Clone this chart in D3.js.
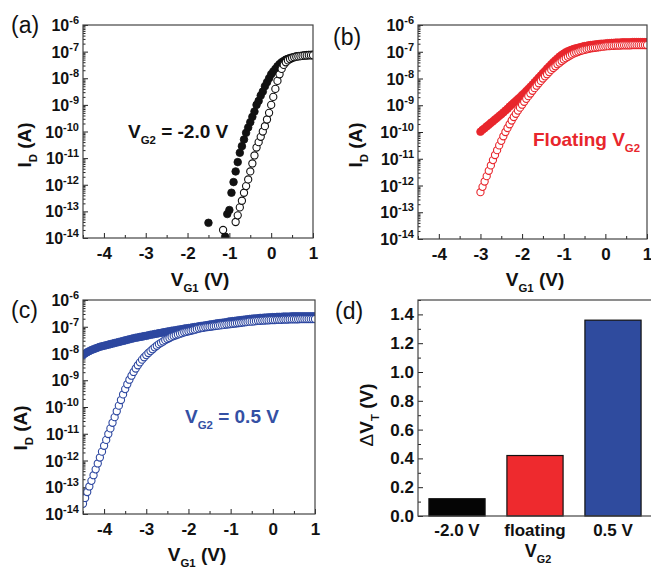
<!DOCTYPE html>
<html>
<head>
<meta charset="utf-8">
<script src="https://cdn.jsdelivr.net/npm/d3@7"></script>
<style>
body { margin: 0; background: #fff; }
svg text { font-family: 'Liberation Sans', Arial, Helvetica, sans-serif; }
</style>
</head>
<body>
<script>
// gate sweep, V_G1 in volts (all series end at 1.0 V)
let vg1 = [-4.5,-4.45,-4.4,-4.35,-4.3,-4.25,-4.2,-4.15,-4.1,-4.05,
    -4,-3.95,-3.9,-3.85,-3.8,-3.75,-3.7,-3.65,-3.6,-3.55,
    -3.5,-3.45,-3.4,-3.35,-3.3,-3.25,-3.2,-3.15,-3.1,-3.05,
    -3,-2.95,-2.9,-2.85,-2.8,-2.75,-2.7,-2.65,-2.6,-2.55,
    -2.5,-2.45,-2.4,-2.35,-2.3,-2.25,-2.2,-2.15,-2.1,-2.05,
    -2,-1.95,-1.9,-1.85,-1.8,-1.75,-1.7,-1.65,-1.6,-1.55,
    -1.5,-1.45,-1.4,-1.35,-1.3,-1.25,-1.2,-1.15,-1.1,-1.05,
    -1,-0.95,-0.9,-0.85,-0.8,-0.75,-0.7,-0.65,-0.6,-0.55,
    -0.5,-0.45,-0.4,-0.35,-0.3,-0.25,-0.2,-0.15,-0.1,-0.05,
    0,0.05,0.1,0.15,0.2,0.25,0.3,0.35,0.4,0.45,
    0.5,0.55,0.6,0.65,0.7,0.75,0.8,0.85,0.9,0.95,1];

// log10(I_D / A), aligned to the last entries of vg1; null = below 1e-14
// (a) V_G2 = -2.0 V, from -1.5 V / -1.15 V
let aFilled = [-13.43,null,null,null,null,null,null,null,-13.95,-13.1,
    -12.95,-12.3,-11.9,-11.5,-11.15,-10.8,-10.55,-10.3,-10.05,-9.85,
    -9.65,-9.45,-9.25,-9.0,-8.85,-8.65,-8.5,-8.3,-8.15,-8.0,
    -7.85,-7.75,-7.65,-7.55,-7.47,-7.4,-7.35,-7.3,-7.27,-7.24,
    -7.22,-7.2,-7.18,-7.17,-7.16,-7.15,-7.14,-7.13,-7.12,-7.12,-7.11];
let aOpen = [-13.7,null,null,null,null,null,
    -13.4,-13.15,-12.85,-12.6,-12.3,-12.05,-11.8,-11.5,-11.2,-10.9,
    -10.6,-10.4,-10.2,-10.0,-9.8,-9.55,-9.3,
    -9.0,-8.7,-8.4,-8.1,-7.85,-7.65,-7.5,-7.4,-7.33,-7.28,
    -7.24,-7.21,-7.19,-7.18,-7.17,-7.16,-7.15,-7.15,-7.14,-7.14,-7.14];

// (b) floating V_G2, from -3.0 V
let bFilled = [-9.99,-9.92,-9.86,-9.79,-9.73,-9.66,-9.6,-9.53,-9.47,-9.4,
    -9.34,-9.27,-9.2,-9.13,-9.05,-8.98,-8.91,-8.84,-8.77,-8.7,
    -8.62,-8.55,-8.47,-8.39,-8.31,-8.23,-8.14,-8.06,-7.97,-7.89,
    -7.8,-7.72,-7.63,-7.55,-7.47,-7.39,-7.32,-7.25,-7.18,-7.12,
    -7.07,-7.02,-6.98,-6.95,-6.92,-6.89,-6.87,-6.85,-6.83,-6.81,
    -6.79,-6.78,-6.76,-6.75,-6.74,-6.73,-6.72,-6.71,-6.7,-6.7,
    -6.69,-6.68,-6.68,-6.67,-6.67,-6.66,-6.66,-6.66,-6.65,-6.65,
    -6.65,-6.65,-6.65,-6.64,-6.64,-6.64,-6.64,-6.64,-6.64,-6.64,-6.64];
let bOpen = [-12.25,-12.05,-11.85,-11.65,-11.45,-11.25,-11.05,-10.86,-10.68,-10.5,
    -10.33,-10.16,-10.0,-9.85,-9.71,-9.57,-9.44,-9.32,-9.2,-9.09,
    -8.98,-8.87,-8.76,-8.66,-8.56,-8.46,-8.36,-8.27,-8.18,-8.09,
    -8.0,-7.92,-7.84,-7.76,-7.68,-7.61,-7.54,-7.47,-7.41,-7.35,
    -7.29,-7.24,-7.19,-7.14,-7.1,-7.06,-7.03,-7.0,-6.97,-6.95,
    -6.93,-6.91,-6.89,-6.87,-6.86,-6.85,-6.84,-6.83,-6.82,-6.81,
    -6.8,-6.79,-6.79,-6.78,-6.78,-6.77,-6.77,-6.77,-6.76,-6.76,
    -6.76,-6.76,-6.76,-6.75,-6.75,-6.75,-6.75,-6.75,-6.75,-6.75,-6.75];

// (c) V_G2 = 0.5 V, from -4.5 V
let cFilled = [-8.06,-8.0,-7.95,-7.91,-7.87,-7.84,-7.81,-7.78,-7.75,-7.73,
    -7.71,-7.69,-7.67,-7.65,-7.63,-7.61,-7.59,-7.57,-7.55,-7.53,
    -7.51,-7.49,-7.47,-7.45,-7.43,-7.41,-7.4,-7.38,-7.37,-7.35,
    -7.34,-7.32,-7.3,-7.29,-7.27,-7.26,-7.24,-7.23,-7.21,-7.2,
    -7.18,-7.17,-7.15,-7.14,-7.13,-7.11,-7.1,-7.09,-7.07,-7.06,
    -7.05,-7.04,-7.02,-7.01,-7.0,-6.98,-6.97,-6.96,-6.95,-6.94,
    -6.92,-6.91,-6.9,-6.88,-6.87,-6.86,-6.85,-6.84,-6.83,-6.81,
    -6.8,-6.79,-6.78,-6.77,-6.76,-6.75,-6.74,-6.73,-6.72,-6.71,
    -6.7,-6.69,-6.69,-6.68,-6.67,-6.67,-6.66,-6.66,-6.65,-6.65,
    -6.64,-6.64,-6.63,-6.63,-6.63,-6.62,-6.62,-6.62,-6.62,-6.61,
    -6.61,-6.61,-6.61,-6.61,-6.61,-6.61,-6.61,-6.61,-6.61,-6.61,-6.61];
let cOpen = [-13.62,-13.4,-13.18,-12.97,-12.76,-12.55,-12.33,-12.11,-11.89,-11.67,
    -11.45,-11.23,-11.01,-10.8,-10.59,-10.38,-10.16,-9.95,-9.74,-9.53,
    -9.33,-9.15,-8.98,-8.83,-8.69,-8.56,-8.44,-8.33,-8.23,-8.14,
    -8.06,-7.98,-7.91,-7.84,-7.77,-7.71,-7.65,-7.6,-7.55,-7.5,
    -7.46,-7.42,-7.38,-7.35,-7.32,-7.29,-7.26,-7.24,-7.21,-7.19,
    -7.17,-7.15,-7.13,-7.11,-7.09,-7.07,-7.05,-7.04,-7.02,-7.01,
    -7.0,-6.99,-6.98,-6.97,-6.96,-6.95,-6.94,-6.93,-6.92,-6.91,
    -6.9,-6.89,-6.88,-6.87,-6.86,-6.85,-6.84,-6.83,-6.82,-6.81,
    -6.81,-6.8,-6.79,-6.78,-6.78,-6.77,-6.77,-6.76,-6.76,-6.75,
    -6.75,-6.75,-6.74,-6.74,-6.74,-6.73,-6.73,-6.73,-6.72,-6.72,
    -6.72,-6.72,-6.72,-6.71,-6.71,-6.71,-6.71,-6.71,-6.71,-6.71,-6.71];

// (d) threshold shift
let vg2Labels = ["-2.0 V", "floating", "0.5 V"];
let deltaVT = [0.12, 0.42, 1.36];
let barColors = ["#050505", "#ee2a2e", "#2f4b9e"];

let xTicks = [-4, -3, -2, -1, 0, 1];
let xMinor = [-4.5, -3.5, -2.5, -1.5, -0.5, 0.5];
let decades = [-14, -13, -12, -11, -10, -9, -8, -7, -6];
let dvtTicks = [0, 0.2, 0.4, 0.6, 0.8, 1.0, 1.2, 1.4];
let dvtMinor = [0.1, 0.3, 0.5, 0.7, 0.9, 1.1, 1.3, 1.5];

let svg = d3.select("body").append("svg").attr("width", 651).attr("height", 568);

// text with sub/superscript parts: [[str, ""|"sub"|"sup"], ...]
function richText(g, x, y, parts, opt)
{
    let size = opt.size;
    let t = g.append("text")
        .attr("x", x).attr("y", y)
        .attr("font-size", size)
        .attr("font-weight", opt.weight || "bold")
        .attr("fill", opt.color || "#111")
        .attr("text-anchor", opt.anchor || "start");
    if (opt.rotate)
        t.attr("transform", "rotate(-90," + x + "," + y + ")");
    let shift = 0;
    for (let [s, kind, w] of parts)
    {
        let sp = t.append("tspan").text(s);
        let target = kind == "sub" ? size * 0.32 : kind == "sup" ? -(opt.supShift || size * 0.45) : 0;
        if (target != shift)
            sp.attr("dy", target - shift);
        shift = target;
        if (kind)
            sp.attr("font-size", opt.small || size * 0.6);
        if (w)
            sp.attr("font-weight", w);
    }
    return t;
}

function styleAxis(a)
{
    a.select(".domain").remove();
    a.selectAll(".tick line").attr("stroke", "#222").attr("stroke-width", 1);
}

function pointsOf(logVals)
{
    let off = vg1.length - logVals.length;
    return logVals.map((v, i) => ({vg: vg1[off + i], id: v == null ? null : Math.pow(10, v)}))
        .filter(d => d.id != null);
}

function drawLogPanel(p, filled, open, color, name)
{
    let g = svg.append("g");
    let x = d3.scaleLinear().domain([-4.5, 1]).range([p.left, p.left + p.width]);
    let y = d3.scaleLog().domain([1e-14, 1e-6]).range([p.top + p.height, p.top]);

    svg.append("clipPath").attr("id", "clip-" + name)
        .append("rect").attr("x", p.left).attr("y", p.top)
        .attr("width", p.width).attr("height", p.height);

    let all = y.ticks();
    let isMajor = v => Math.abs(Math.log10(v) - Math.round(Math.log10(v))) < 1e-6;

    // y ticks, inward
    g.append("g").attr("transform", "translate(" + p.left + ",0)")
        .call(d3.axisLeft(y).tickValues(all.filter(v => !isMajor(v))).tickSize(-2.5).tickFormat(""))
        .call(styleAxis);
    g.append("g").attr("transform", "translate(" + p.left + ",0)")
        .call(d3.axisLeft(y).tickValues(decades.map(n => Math.pow(10, n))).tickSize(-5).tickFormat(""))
        .call(styleAxis);

    // x ticks, inward, with labels
    g.append("g").attr("transform", "translate(0," + (p.top + p.height) + ")")
        .call(d3.axisBottom(x).tickValues(xMinor).tickSize(-3).tickFormat(""))
        .call(styleAxis);
    let xa = g.append("g").attr("transform", "translate(0," + (p.top + p.height) + ")")
        .call(d3.axisBottom(x).tickValues(xTicks).tickSize(-5).tickPadding(9).tickFormat(d3.format("d")))
        .call(styleAxis);
    xa.selectAll("text").attr("font-size", 17).attr("font-weight", "bold").attr("fill", "#111")
        .text(d => d < 0 ? "-" + Math.abs(d) : d);
    xa.attr("font-family", null);

    // y labels 10^n
    for (let n of decades)
    {
        richText(g, p.left - 4, y(Math.pow(10, n)) + 6, [["10", ""], [String(n).replace("\u2212", "-"), "sup"]],
            {size: 16, small: 11, supShift: 7, anchor: "end"});
    }

    let marks = g.append("g").attr("clip-path", "url(#clip-" + name + ")");
    marks.append("g").selectAll("circle")
        .data(pointsOf(filled))
        .join("circle")
        .attr("cx", d => x(d.vg))
        .attr("cy", d => y(d.id))
        .attr("r", 3.8)
        .attr("fill", color)
        .attr("stroke", color)
        .attr("stroke-width", 0.8);
    marks.append("g").selectAll("circle")
        .data(pointsOf(open))
        .join("circle")
        .attr("cx", d => x(d.vg))
        .attr("cy", d => y(d.id))
        .attr("r", 3.6)
        .attr("fill", "#fff")
        .attr("stroke", color)
        .attr("stroke-width", 1.1);

    g.append("rect").attr("x", p.left).attr("y", p.top)
        .attr("width", p.width).attr("height", p.height)
        .attr("fill", "none").attr("stroke", "#444").attr("stroke-width", 1.2);
    return g;
}

let pa = {left: 83, top: 25, width: 230, height: 213};
let pb = {left: 418, top: 25, width: 229, height: 214};
let pc = {left: 83, top: 300, width: 232, height: 214};
let pd = {left: 418, top: 300, width: 234, height: 216};

let black = "#111111", red = "#e8262c", blue = "#2d47a0";

let ga = drawLogPanel(pa, aFilled, aOpen, black, "a");
let gb = drawLogPanel(pb, bFilled, bOpen, red, "b");
let gc = drawLogPanel(pc, cFilled, cOpen, blue, "c");

// axis titles
let idTitle = [["I", ""], ["D", "sub"], [" (A)", ""]];
let vg1Title = [["V", ""], ["G1", "sub"], [" (V)", ""]];
richText(ga, 31, 145, idTitle, {size: 19, rotate: true, anchor: "middle"});
richText(gb, 362, 145, idTitle, {size: 19, rotate: true, anchor: "middle"});
richText(gc, 27, 428, idTitle, {size: 19, rotate: true, anchor: "middle"});
richText(ga, 200, 286, vg1Title, {size: 19, anchor: "middle"});
richText(gb, 535, 286, vg1Title, {size: 19, anchor: "middle"});
richText(gc, 197, 561, vg1Title, {size: 19, anchor: "middle"});

// in-plot notes
richText(ga, 128, 138, [["V", ""], ["G2", "sub"], [" = -2.0 V", ""]], {size: 19, color: black});
richText(gb, 533, 146, [["Floating V", ""], ["G2", "sub"]], {size: 19, color: red});
richText(gc, 185, 423, [["V", ""], ["G2", "sub"], [" = 0.5 V", ""]], {size: 19, color: "#3450a4"});

// panel tags
let tags = [["(a)", 11, 33], ["(b)", 333, 45], ["(c)", 11, 318], ["(d)", 335, 319]];
for (let [s, tx, ty] of tags)
    svg.append("text").attr("x", tx).attr("y", ty).attr("font-size", 23).attr("fill", "#111").text(s);

// (d) bar chart
let gd = svg.append("g");
let xb = d3.scaleBand().domain(vg2Labels).range([pd.left, pd.left + pd.width])
    .paddingInner(0.28).paddingOuter(0.14);
let yb = d3.scaleLinear().domain([0, 1.5]).range([pd.top + pd.height, pd.top]);

gd.selectAll("rect.bar")
    .data(vg2Labels.map((c, i) => ({c: c, v: deltaVT[i], color: barColors[i]})))
    .join("rect")
    .attr("class", "bar")
    .attr("x", d => xb(d.c))
    .attr("y", d => yb(d.v))
    .attr("width", xb.bandwidth())
    .attr("height", d => yb(0) - yb(d.v))
    .attr("fill", d => d.color)
    .attr("stroke", "#111")
    .attr("stroke-width", 1.2);

gd.append("g").attr("transform", "translate(" + pd.left + ",0)")
    .call(d3.axisLeft(yb).tickValues(dvtMinor).tickSize(-3).tickFormat(""))
    .call(styleAxis);
let ya = gd.append("g").attr("transform", "translate(" + pd.left + ",0)")
    .call(d3.axisLeft(yb).tickValues(dvtTicks).tickSize(-5).tickPadding(4).tickFormat(d3.format(".1f")))
    .call(styleAxis);
ya.selectAll("text").attr("font-size", 17).attr("font-weight", "bold").attr("fill", "#111");
ya.attr("font-family", null);

let xba = gd.append("g").attr("transform", "translate(0," + (pd.top + pd.height) + ")")
    .call(d3.axisBottom(xb).tickSize(0).tickPadding(8))
    .call(styleAxis);
xba.selectAll("text").attr("font-size", 17).attr("font-weight", "bold").attr("fill", "#111");
xba.attr("font-family", null);

gd.append("rect").attr("x", pd.left).attr("y", pd.top)
    .attr("width", pd.width).attr("height", pd.height)
    .attr("fill", "none").attr("stroke", "#444").attr("stroke-width", 1.2);

richText(gd, 373, 415, [["\u0394", "", "normal"], ["V", ""], ["T", "sub"], [" (V)", ""]],
    {size: 19, rotate: true, anchor: "middle"});
richText(gd, 538, 557, [["V", ""], ["G2", "sub"]], {size: 18, anchor: "middle"});
</script>
</body>
</html>
